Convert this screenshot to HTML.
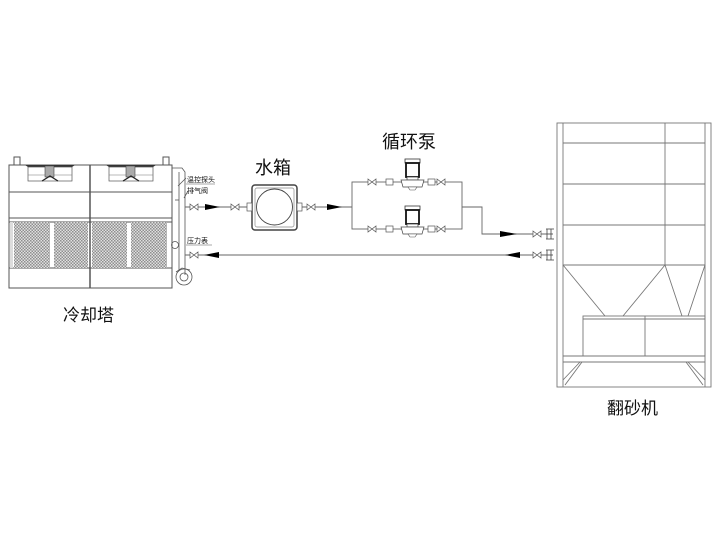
<!DOCTYPE html>
<html><head><meta charset="utf-8"><style>
html,body{margin:0;padding:0;background:#fff;width:720px;height:540px;overflow:hidden}
svg{display:block}
text{font-family:"Liberation Sans","Noto Sans CJK SC",sans-serif;fill:#111}
</style></head><body>
<svg width="720" height="540" viewBox="0 0 720 540" xmlns="http://www.w3.org/2000/svg">
<defs>
<pattern id="mesh" width="3" height="3" patternUnits="userSpaceOnUse">
<rect width="3" height="3" fill="#e0e0e0"/><rect width="1.5" height="1.5" fill="#8e8e8e"/><rect x="1.5" y="1.5" width="1.5" height="1.5" fill="#8e8e8e"/>
</pattern>
<g id="valve"><path d="M0,-3 L8,3 L8,-3 L0,3 Z" fill="#fff" stroke="#555" stroke-width="0.7"/></g>
<g id="fan">
<path d="M0,4 L50,4 L47,6 L3,6 Z" fill="#333"/>
<rect x="3" y="6" width="44" height="14" fill="#fff" stroke="#555" stroke-width="0.7"/>
<line x1="3" y1="14" x2="47" y2="14" stroke="#777" stroke-width="0.6"/>
<rect x="20" y="5" width="9" height="11" fill="#aaa" stroke="#444" stroke-width="0.6"/>
<path d="M17,20 L25,15 L33,20" fill="none" stroke="#222" stroke-width="1.2"/>
</g>
<g id="pump">
<rect x="0" y="0" width="15" height="4" fill="#fff" stroke="#333" stroke-width="0.8"/>
<rect x="1" y="4" width="13" height="14" fill="#fff" stroke="#111" stroke-width="1.8"/>
<rect x="2" y="18" width="11" height="3" fill="#fff" stroke="#333" stroke-width="0.7"/>
<path d="M-4,21 L19,21 L17,28 L-2,28 Z" fill="#fff" stroke="#444" stroke-width="0.7"/>
<path d="M3,28 L12,28 L10,31 L5,31 Z" fill="#fff" stroke="#555" stroke-width="0.6"/>
</g>
</defs>

<!-- Cooling tower -->
<g stroke="#555" stroke-width="1" fill="none">
<rect x="9" y="165" width="163" height="123"/>
<line x1="90" y1="165" x2="90" y2="288" stroke-width="1.5"/>
<line x1="9" y1="192" x2="172" y2="192"/>
<line x1="9" y1="218" x2="172" y2="218"/>
<line x1="9" y1="222" x2="172" y2="222"/>
<line x1="9" y1="268" x2="172" y2="268"/>
<rect x="14" y="157" width="6" height="8"/>
<rect x="163" y="157" width="6" height="8"/>
</g>
<rect x="14" y="222" width="36" height="46" fill="url(#mesh)"/>
<rect x="54" y="222" width="34" height="46" fill="url(#mesh)"/>
<rect x="92" y="222" width="35" height="46" fill="url(#mesh)"/>
<rect x="131" y="222" width="36" height="46" fill="url(#mesh)"/>
<rect x="10" y="222" width="3" height="46" fill="#ddd"/>
<use href="#fan" x="25" y="161"/>
<use href="#fan" x="106" y="161"/>
<!-- tower pipe -->
<g stroke="#555" stroke-width="0.8" fill="none">
<path d="M172,168 L182,168 L185,172 L185,275"/>
<line x1="179" y1="172" x2="179" y2="270"/>
<line x1="175" y1="200" x2="179" y2="200"/>
<circle cx="175" cy="245" r="3.5"/>
<circle cx="184" cy="277" r="8"/><circle cx="184" cy="277" r="4"/>
<path d="M176,272 L182,268 L190,270"/>
<line x1="178" y1="186" x2="186" y2="178"/>
<line x1="184" y1="198" x2="188" y2="191"/>
</g>
<text x="187" y="182" style="font-size:7px">温控探头</text>
<text x="187" y="193" style="font-size:7px">排气阀</text>
<text x="187" y="243" style="font-size:7px">压力表</text>
<line x1="186" y1="184" x2="215" y2="184" stroke="#555" stroke-width="0.5"/>
<line x1="186" y1="245" x2="212" y2="245" stroke="#555" stroke-width="0.5"/>
<text x="63" y="321" style="font-size:17px">冷却塔</text>

<!-- lines -->
<g stroke="#666" stroke-width="0.9" fill="none">
<line x1="185" y1="207" x2="252" y2="207"/>
<line x1="297" y1="207" x2="352" y2="207"/>
<rect x="352" y="182" width="110" height="47"/>
<path d="M462,207 L482,207 L482,234 L553,234"/>
<line x1="185" y1="255" x2="553" y2="255"/>
</g>
<path d="M205,204 L220,207 L205,210 Z" fill="#000"/>
<path d="M327,204 L342,207 L327,210 Z" fill="#000"/>
<path d="M500,231 L517,234 L500,237 Z" fill="#000"/>
<path d="M520,252 L505,255 L520,258 Z" fill="#000"/>
<path d="M219,252 L204,255 L219,258 Z" fill="#000"/>
<use href="#valve" x="190" y="207"/><use href="#valve" x="231" y="207"/>
<use href="#valve" x="307" y="207"/><use href="#valve" x="190" y="255"/>
<use href="#valve" x="533" y="234"/><use href="#valve" x="533" y="255"/>
<g stroke="#444" stroke-width="0.8">
<line x1="547" y1="229" x2="547" y2="239"/><line x1="551" y1="229" x2="551" y2="239"/><line x1="546" y1="229" x2="554" y2="229"/><line x1="546" y1="239" x2="554" y2="239"/>
<line x1="547" y1="250" x2="547" y2="260"/><line x1="551" y1="250" x2="551" y2="260"/><line x1="546" y1="250" x2="554" y2="250"/><line x1="546" y1="260" x2="554" y2="260"/>
</g>

<!-- water tank -->
<rect x="252" y="185" width="45" height="45" rx="3" fill="#fff" stroke="#444" stroke-width="1.5"/>
<rect x="255" y="188" width="39" height="39" rx="2" fill="none" stroke="#888" stroke-width="0.7"/>
<circle cx="274.5" cy="207" r="18" fill="#fff" stroke="#444" stroke-width="0.9"/>
<rect x="247" y="203" width="5" height="8" fill="#fff" stroke="#555" stroke-width="0.7"/>
<rect x="297" y="203" width="5" height="8" fill="#fff" stroke="#555" stroke-width="0.7"/>
<text x="255" y="174" style="font-size:18px">水箱</text>
<text x="382" y="148" style="font-size:18px">循环泵</text>

<!-- pumps -->
<use href="#pump" x="405" y="159"/>
<use href="#pump" x="405" y="206"/>
<g fill="#fff" stroke="#555" stroke-width="0.7">
<use href="#valve" x="368" y="182"/><rect x="386" y="179" width="7" height="6"/><rect x="428" y="179" width="7" height="6"/><use href="#valve" x="437" y="182"/>
<use href="#valve" x="368" y="229"/><rect x="386" y="226" width="7" height="6"/><rect x="428" y="226" width="7" height="6"/><use href="#valve" x="437" y="229"/>
</g>

<!-- sand machine -->
<g stroke="#777" stroke-width="0.9" fill="none">
<rect x="557" y="123" width="154" height="264"/>
<line x1="563" y1="123" x2="563" y2="387"/>
<line x1="705" y1="123" x2="705" y2="387"/>
<line x1="665" y1="123" x2="665" y2="265"/>
<line x1="563" y1="143" x2="705" y2="143"/>
<line x1="563" y1="184" x2="705" y2="184"/>
<line x1="563" y1="225" x2="705" y2="225"/>
<line x1="563" y1="265" x2="705" y2="265"/>
<path d="M563,265 L605,316 M623,316 L665,265 L682,316 M688,316 L705,265"/>
<rect x="583" y="316" width="122" height="40"/>
<line x1="583" y1="319" x2="705" y2="319"/>
<line x1="645" y1="316" x2="645" y2="356"/>
<line x1="563" y1="356" x2="705" y2="356"/>
<line x1="563" y1="362" x2="705" y2="362"/>
<path d="M563,380 L580,362 M565,385 L582,362 M705,380 L688,362 M703,385 L686,362"/>
</g>
<text x="607" y="414" style="font-size:17px">翻砂机</text>
</svg>
</body></html>
